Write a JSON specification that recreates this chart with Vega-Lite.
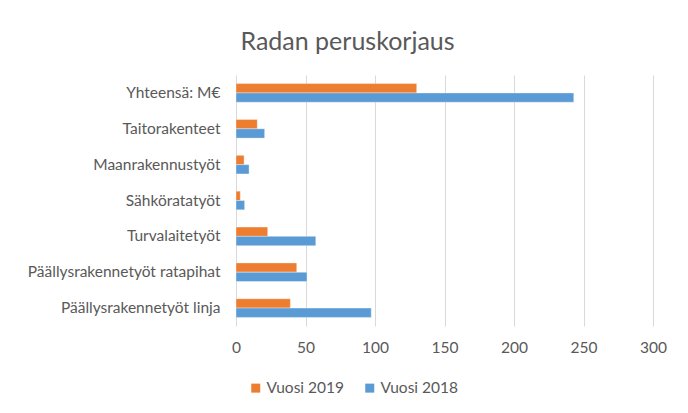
{
  "$schema": "https://vega.github.io/schema/vega-lite/v6.json",
  "width": 417,
  "height": 251,
  "autosize": {"type": "none"},
  "padding": {"left": 236, "top": 75, "right": 35, "bottom": 87},
  "background": "white",
  "config": {"view": {"stroke": null}},
  "title": {
    "text": "Radan peruskorjaus",
    "font": "Lato",
    "fontSize": 25,
    "fontWeight": "normal",
    "color": "#595959",
    "anchor": "middle",
    "dx": -97,
    "offset": 0,
    "baseline": "alphabetic"
  },
  "data": {
    "values": [
      {"category": "Yhteensä: M€", "series": "Vuosi 2019", "value": 130},
      {"category": "Yhteensä: M€", "series": "Vuosi 2018", "value": 243},
      {"category": "Taitorakenteet", "series": "Vuosi 2019", "value": 15.3},
      {"category": "Taitorakenteet", "series": "Vuosi 2018", "value": 20.6},
      {"category": "Maanrakennustyöt", "series": "Vuosi 2019", "value": 5.8},
      {"category": "Maanrakennustyöt", "series": "Vuosi 2018", "value": 9.4},
      {"category": "Sähköratatyöt", "series": "Vuosi 2019", "value": 3.1},
      {"category": "Sähköratatyöt", "series": "Vuosi 2018", "value": 6.2},
      {"category": "Turvalaitetyöt", "series": "Vuosi 2019", "value": 22.8},
      {"category": "Turvalaitetyöt", "series": "Vuosi 2018", "value": 57.4},
      {"category": "Päällysrakennetyöt ratapihat", "series": "Vuosi 2019", "value": 43.7},
      {"category": "Päällysrakennetyöt ratapihat", "series": "Vuosi 2018", "value": 51.1},
      {"category": "Päällysrakennetyöt linja", "series": "Vuosi 2019", "value": 39.1},
      {"category": "Päällysrakennetyöt linja", "series": "Vuosi 2018", "value": 97.3}
    ]
  },
  "mark": {"type": "bar", "stroke": "white", "strokeWidth": 0.6, "strokeOpacity": 0.6},
  "encoding": {
    "y": {
      "field": "category",
      "type": "nominal",
      "sort": ["Yhteensä: M€", "Taitorakenteet", "Maanrakennustyöt", "Sähköratatyöt", "Turvalaitetyöt", "Päällysrakennetyöt ratapihat", "Päällysrakennetyöt linja"],
      "scale": {"paddingInner": 0.48, "paddingOuter": 0.24},
      "axis": {
        "title": null,
        "ticks": false,
        "domain": false,
        "labelPadding": 16,
        "labelFont": "Lato",
        "labelFontSize": 15.5,
        "labelColor": "#595959",
        "labelLimit": 300
      }
    },
    "yOffset": {"field": "series", "sort": ["Vuosi 2019", "Vuosi 2018"]},
    "x": {
      "field": "value",
      "type": "quantitative",
      "scale": {"domain": [0, 300], "nice": false},
      "axis": {
        "title": null,
        "values": [0, 50, 100, 150, 200, 250, 300],
        "grid": true,
        "gridColor": "#d9d9d9",
        "gridWidth": 1,
        "domain": false,
        "ticks": false,
        "labelFlush": false,
        "labelPadding": 14,
        "labelFont": "Lato",
        "labelFontSize": 15.5,
        "labelColor": "#595959"
      }
    },
    "color": {
      "field": "series",
      "type": "nominal",
      "scale": {"domain": ["Vuosi 2019", "Vuosi 2018"], "range": ["#ED7D31", "#5B9BD5"]},
      "legend": {
        "title": null,
        "orient": "none",
        "direction": "horizontal",
        "legendX": 12,
        "legendY": 305,
        "symbolType": "square",
        "symbolSize": 81,
        "symbolStrokeWidth": 0,
        "labelFont": "Lato",
        "labelFontSize": 15.5,
        "labelColor": "#595959",
        "labelOffset": 3,
        "columnPadding": 18
      }
    }
  }
}
